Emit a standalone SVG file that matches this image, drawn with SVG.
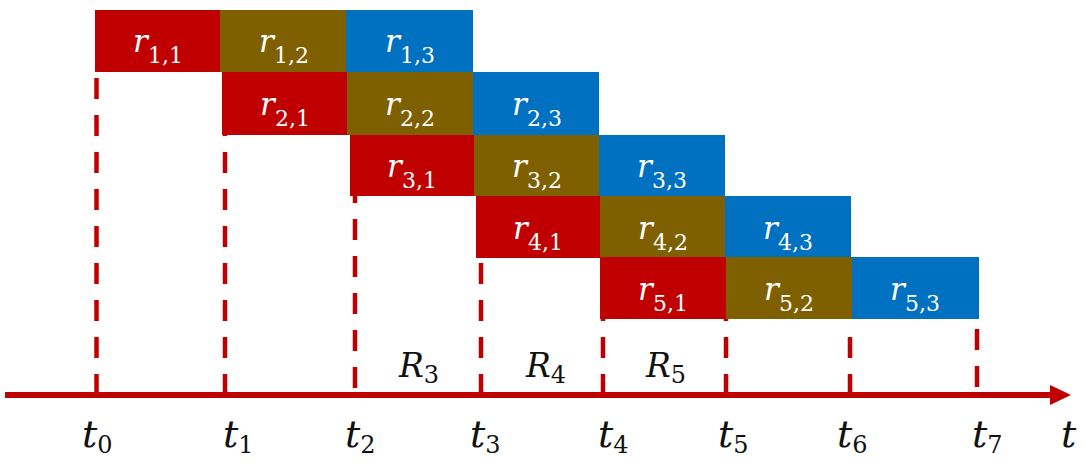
<svg xmlns="http://www.w3.org/2000/svg" width="1089" height="471" viewBox="0 0 1089 471">
<style>
.red{fill:#C00000}
.olv{fill:#7F6000}
.blu{fill:#0070C0}
.lbl{font-family:"DejaVu Serif","Liberation Serif",serif;font-style:italic;font-size:31px;fill:#ffffff;text-anchor:middle}
.sub{font-style:normal;font-size:22px}
.ax{font-family:"DejaVu Serif","Liberation Serif",serif;font-style:italic;font-size:38px;fill:#111111}
.rl{font-size:33px}
.axs{font-style:normal;font-size:24px}
.dash{stroke:#C00000;stroke-width:4.5;stroke-dasharray:21 16;fill:none}
</style>
<g id="blocks">
<g id="r11"><rect class="red" x="95" y="10" width="125" height="62"/><text class="lbl" x="158" y="52">r<tspan class="sub" dy="11">1,1</tspan></text></g>
<g id="r12"><rect class="olv" x="220" y="10" width="126" height="62"/><text class="lbl" x="284" y="52">r<tspan class="sub" dy="11">1,2</tspan></text></g>
<g id="r13"><rect class="blu" x="346" y="10" width="127" height="62"/><text class="lbl" x="410" y="52">r<tspan class="sub" dy="11">1,3</tspan></text></g>
<g id="r21"><rect class="red" x="222" y="72" width="125" height="63"/><text class="lbl" x="285" y="115">r<tspan class="sub" dy="11">2,1</tspan></text></g>
<g id="r22"><rect class="olv" x="347" y="72" width="126" height="63"/><text class="lbl" x="410" y="115">r<tspan class="sub" dy="11">2,2</tspan></text></g>
<g id="r23"><rect class="blu" x="473" y="72" width="126" height="63"/><text class="lbl" x="537" y="115">r<tspan class="sub" dy="11">2,3</tspan></text></g>
<g id="r31"><rect class="red" x="350" y="135" width="124" height="61"/><text class="lbl" x="412" y="177">r<tspan class="sub" dy="11">3,1</tspan></text></g>
<g id="r32"><rect class="olv" x="474" y="135" width="125" height="61"/><text class="lbl" x="537" y="177">r<tspan class="sub" dy="11">3,2</tspan></text></g>
<g id="r33"><rect class="blu" x="599" y="135" width="126" height="61"/><text class="lbl" x="662" y="177">r<tspan class="sub" dy="11">3,3</tspan></text></g>
<g id="r41"><rect class="red" x="476" y="196" width="124" height="62"/><text class="lbl" x="538" y="239">r<tspan class="sub" dy="11">4,1</tspan></text></g>
<g id="r42"><rect class="olv" x="600" y="196" width="125" height="62"/><text class="lbl" x="663" y="239">r<tspan class="sub" dy="11">4,2</tspan></text></g>
<g id="r43"><rect class="blu" x="725" y="196" width="126" height="62"/><text class="lbl" x="788" y="239">r<tspan class="sub" dy="11">4,3</tspan></text></g>
<g id="r51"><rect class="red" x="600" y="257" width="126" height="62"/><text class="lbl" x="663" y="300">r<tspan class="sub" dy="11">5,1</tspan></text></g>
<g id="r52"><rect class="olv" x="726" y="257" width="126" height="62"/><text class="lbl" x="789" y="300">r<tspan class="sub" dy="11">5,2</tspan></text></g>
<g id="r53"><rect class="blu" x="852" y="257" width="127" height="62"/><text class="lbl" x="915" y="300">r<tspan class="sub" dy="11">5,3</tspan></text></g>
</g>
<g id="connectors">
<line class="dash" x1="96.5" y1="395" x2="96.5" y2="72"/>
<line class="dash" x1="225" y1="395" x2="225" y2="135"/>
<line class="dash" x1="355" y1="395" x2="355" y2="196" stroke-dashoffset="30"/>
<line class="dash" x1="481" y1="395" x2="481" y2="258"/>
<line class="dash" x1="603" y1="395" x2="603" y2="319"/>
<line class="dash" x1="726" y1="395" x2="726" y2="319"/>
<line class="dash" x1="850" y1="395" x2="850" y2="324"/>
<line class="dash" x1="977" y1="395" x2="977" y2="319" stroke-dashoffset="29"/>
<line x1="5" y1="395" x2="1052" y2="395" stroke="#C00000" stroke-width="6"/>
<polygon points="1050,385 1071,395 1050,405" fill="#C00000"/>
</g>
<g id="labels">
<text class="ax" x="82" y="447">t<tspan class="axs" dy="6">0</tspan></text>
<text class="ax" x="223" y="447">t<tspan class="axs" dy="6">1</tspan></text>
<text class="ax" x="345" y="447">t<tspan class="axs" dy="6">2</tspan></text>
<text class="ax" x="470" y="447">t<tspan class="axs" dy="6">3</tspan></text>
<text class="ax" x="598" y="447">t<tspan class="axs" dy="6">4</tspan></text>
<text class="ax" x="718" y="447">t<tspan class="axs" dy="6">5</tspan></text>
<text class="ax" x="837" y="447">t<tspan class="axs" dy="6">6</tspan></text>
<text class="ax" x="972" y="447">t<tspan class="axs" dy="6">7</tspan></text>
<text class="ax" x="1061" y="447">t</text>
<text class="ax rl" x="399" y="377">R<tspan class="axs" dy="6">3</tspan></text>
<text class="ax rl" x="526" y="377">R<tspan class="axs" dy="6">4</tspan></text>
<text class="ax rl" x="646" y="377">R<tspan class="axs" dy="6">5</tspan></text>
</g>
</svg>
